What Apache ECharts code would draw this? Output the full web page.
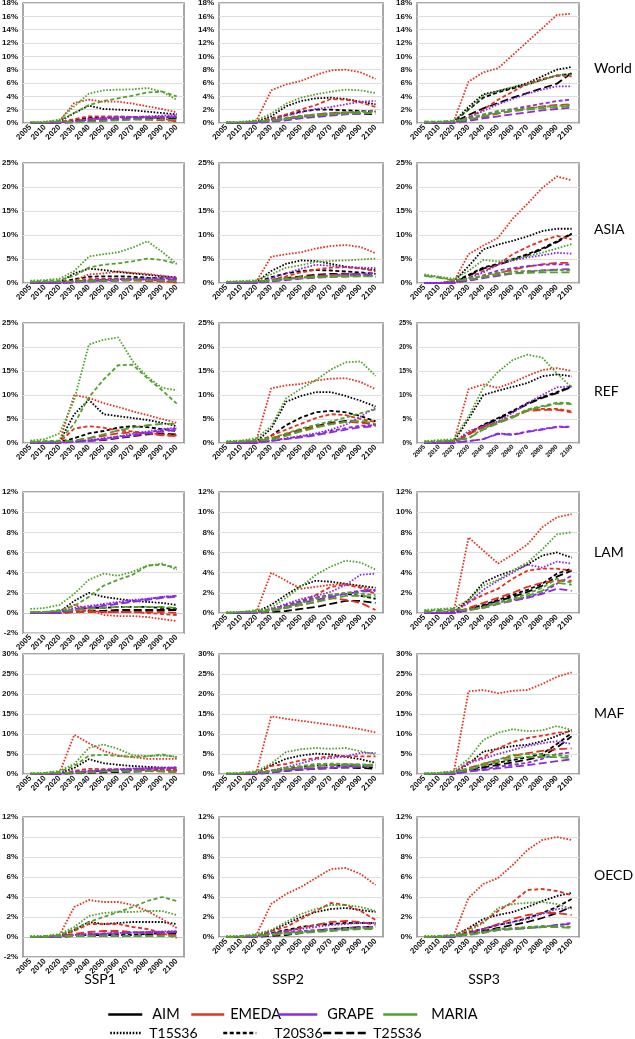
<!DOCTYPE html>
<html><head><meta charset="utf-8">
<script src="https://cdn.jsdelivr.net/npm/echarts/dist/echarts.min.js"></script>
<style>html,body{margin:0;padding:0;background:#fff}#c{width:635px;height:1039px}</style>
</head><body><div id="c"></div>
<script>
// ---------- categories / labels ----------
const years = ['2005','2010','2020','2030','2040','2050','2060','2070','2080','2090','2100'];
const regions = ['World','ASIA','REF','LAM','MAF','OECD'];
const ssps = ['SSP1','SSP2','SSP3'];
const models = ['AIM','EMEDA','GRAPE','MARIA'];
const scenarios = ['T15S36','T20S36','T25S36'];

// y-axis tick ranges (percent) per region row, and per column min
const yMax = [18, 25, 25, 12, 30, 12];
const yStep = [2, 5, 5, 2, 5, 2];
const yMin = [[0,0,0],[0,0,0],[0,0,0],[-2,0,0],[0,0,0],[-2,0,0]];

// ---------- data (percent); rows: AIM T15,T20,T25, EMEDA T15,T20,T25, GRAPE T15,T20,T25, MARIA T15,T20,T25 ----------
const World_SSP1 = [
 [0,0,0.2,1.5,2.6,2.1,2.0,1.9,1.7,1.5,1.3],
 [0,0,0.1,0.4,0.8,0.8,0.9,0.9,0.9,0.9,0.8],
 [0,0,0.1,0.2,0.3,0.4,0.5,0.6,0.7,0.7,0.6],
 [0,0,0.3,3.0,3.5,3.2,3.2,2.9,2.5,2.1,1.6],
 [0,0,0.1,0.6,1.0,1.0,1.0,0.9,0.8,0.7,0.2],
 [0,0,0.1,0.3,0.6,0.7,0.7,0.6,0.5,0.4,0.3],
 [0,0,0.1,0.3,0.6,0.8,0.9,0.9,1.0,1.1,1.2],
 [0,0,0.1,0.2,0.5,0.7,0.8,0.85,0.9,0.95,1.0],
 [0,0,0,0.1,0.3,0.5,0.6,0.7,0.8,0.85,0.9],
 [0.1,0.2,0.5,2.5,4.4,4.9,5.0,5.05,5.25,4.7,3.5],
 [0.1,0.1,0.4,1.5,2.7,3.3,3.7,4.1,4.6,4.7,4.0],
 [0.1,0.1,0.2,0.1,0.2,0.3,0.4,0.5,0.5,0.5,0.5]
];
const World_SSP2 = [
 [0,0,0.2,1.0,2.5,3.3,3.7,3.8,3.6,3.2,2.8],
 [0,0,0.1,0.6,1.2,1.7,2.0,2.0,1.9,1.8,1.7],
 [0,0,0.1,0.3,0.5,0.8,1.0,1.2,1.4,1.4,1.3],
 [0,0,0.3,4.9,5.8,6.3,7.2,7.9,8.0,7.6,6.6],
 [0,0,0.1,0.7,1.3,2.0,2.7,3.6,3.5,3.1,2.4],
 [0,0,0.1,0.3,0.7,1.0,1.3,1.5,1.6,1.6,1.4],
 [0,0,0.1,0.5,1.1,1.6,2.1,2.4,2.8,3.2,3.3],
 [0,0,0.1,0.3,0.6,0.9,1.1,1.3,1.5,1.7,1.9],
 [0,0,0,0.2,0.4,0.7,0.9,1.1,1.3,1.4,1.5],
 [0.1,0.2,0.4,1.4,2.9,3.8,4.3,4.7,5.0,4.9,4.5],
 [0.1,0.1,0.3,0.4,0.8,1.1,1.3,1.5,1.6,1.7,1.7],
 [0.1,0.1,0.2,0.3,0.6,0.9,1.1,1.3,1.4,1.5,1.5]
];
const World_SSP3 = [
 [0,0,0.2,2.4,4.3,4.8,5.3,6.0,7.0,8.0,8.4],
 [0,0,0.2,2.0,3.8,4.6,5.2,5.8,6.5,7.1,7.4],
 [0,0,0.1,1.2,2.2,3.0,3.8,4.5,5.2,5.9,7.5],
 [0,0,0.3,6.2,7.6,8.2,10.2,12.2,14.2,16.2,16.4],
 [0,0,0.1,0.8,2.0,3.5,4.7,5.9,6.6,7.1,7.0],
 [0,0,0.1,0.4,0.9,1.4,1.8,2.2,2.5,2.7,2.8],
 [0,0,0.1,0.8,1.8,2.8,3.6,4.4,5.0,5.5,5.5],
 [0,0,0.1,0.6,1.1,1.7,2.1,2.5,2.9,3.3,3.5],
 [0,0,0,0.3,0.7,1.0,1.3,1.6,1.9,2.1,2.3],
 [0.2,0.2,0.4,2.0,4.1,4.8,5.4,5.8,6.4,7.2,7.3],
 [0.2,0.2,0.3,0.7,1.3,1.8,2.0,2.2,2.4,2.6,2.7],
 [0.1,0.1,0.2,0.5,1.0,1.5,1.8,2.0,2.2,2.4,2.5]
];
const ASIA_SSP1 = [
 [0,0,0.2,2.0,3.0,2.7,2.3,2.0,1.7,1.4,1.2],
 [0,0,0.1,0.8,1.3,1.4,1.4,1.3,1.1,1.0,0.9],
 [0,0,0.1,0.3,0.5,0.6,0.7,0.7,0.7,0.6,0.5],
 [0,0,0.2,0.5,1.8,2.0,2.4,2.1,1.9,1.5,1.0],
 [0,0,0.1,0.3,0.8,0.9,0.9,0.8,0.7,0.4,0.1],
 [0,0,0.1,0.2,0.4,0.5,0.5,0.5,0.4,0.3,0.2],
 [0,0,0.1,0.3,0.5,0.7,0.8,0.9,1.0,1.1,1.2],
 [0,0,0,0.2,0.4,0.5,0.6,0.7,0.8,0.9,0.9],
 [0,0,0,0.1,0.3,0.4,0.5,0.6,0.6,0.7,0.7],
 [0.5,0.6,0.9,2.5,5.5,6.0,6.4,7.4,8.7,6.5,4.0],
 [0.3,0.4,0.6,1.5,3.2,3.8,4.1,4.5,5.1,4.8,4.0],
 [0.2,0.3,0.3,0.3,0.4,0.5,0.6,0.6,0.6,0.5,0.4]
];
const ASIA_SSP2 = [
 [0,0,0.2,2.5,4.0,4.7,4.6,4.0,3.4,3.1,2.7],
 [0,0,0.1,1.2,2.0,2.5,2.7,2.6,2.4,2.2,1.9],
 [0,0,0.1,0.6,1.0,1.4,1.7,1.9,1.9,1.8,1.3],
 [0,0,0.3,5.5,6.0,6.4,7.2,7.7,7.9,7.5,6.2],
 [0,0,0.1,0.7,1.4,2.2,2.8,3.2,3.3,3.0,2.4],
 [0,0,0.1,0.4,0.8,1.2,1.5,1.7,1.8,1.7,1.5],
 [0,0,0.1,1.0,2.0,3.0,3.8,3.6,3.3,3.2,3.1],
 [0,0,0.1,0.4,0.8,1.1,1.3,1.6,1.8,1.9,2.1],
 [0,0,0,0.3,0.6,0.9,1.1,1.3,1.5,1.6,1.7],
 [0.3,0.4,0.6,1.8,3.2,3.7,4.4,4.6,4.7,4.9,5.1],
 [0.2,0.3,0.4,0.6,1.0,1.2,1.3,1.4,1.5,1.5,1.5],
 [0.2,0.2,0.3,0.5,0.8,1.0,1.2,1.3,1.3,1.4,1.4]
];
const ASIA_SSP3 = [
 [0,0,0.3,3.5,7.0,8.0,8.8,9.7,10.8,11.3,11.3],
 [0,0,0.2,1.7,3.2,4.0,5.0,6.0,7.2,8.7,10.3],
 [0,0,0.1,1.5,3.0,3.8,4.8,5.8,7.0,8.5,10.2],
 [0,0,0.3,6.0,7.8,9.4,13.4,16.5,19.8,22.2,21.4],
 [0,0,0.1,1.0,2.5,3.8,6.0,7.5,8.8,9.8,9.1],
 [0,0,0.1,0.5,1.2,2.0,2.8,3.4,3.9,4.2,4.2],
 [0,0,0.1,1.0,2.2,3.8,4.7,5.3,5.8,6.3,6.1],
 [0,0,0.1,0.7,1.6,2.6,3.1,3.5,3.8,3.9,3.8],
 [0,0,0,0.5,1.0,1.5,2.0,2.3,2.6,2.8,2.9],
 [1.8,1.3,0.9,2.5,4.8,4.5,4.9,5.6,6.3,7.2,8.1],
 [1.6,1.2,0.6,0.9,1.5,2.2,2.4,2.5,2.6,2.7,2.6],
 [1.5,1.1,0.5,0.7,1.2,1.8,2.0,2.1,2.2,2.2,2.2]
];
const REF_SSP1 = [
 [0,0,0.3,6.0,9.0,6.0,5.6,5.2,4.8,4.2,3.5],
 [0,0,0.2,1.0,2.0,2.5,3.2,3.5,3.3,2.9,2.5],
 [0,0,0.1,0.3,0.5,0.6,1.0,1.4,1.8,2.0,1.8],
 [0,0,0.3,10.0,9.4,8.3,7.5,6.6,5.8,5.0,4.2],
 [0,0,0.2,3.0,3.5,3.2,2.6,2.4,2.1,1.8,1.6],
 [0,0,0.1,0.5,1.0,1.5,2.0,2.2,2.0,1.6,1.4],
 [0,0,0.1,0.3,0.6,1.0,1.4,1.9,2.4,2.9,3.2],
 [0,0,0.1,0.3,0.5,0.9,1.3,1.7,2.2,2.7,3.0],
 [0,0,0,0.2,0.4,0.7,1.1,1.5,2.0,2.4,2.7],
 [0.5,0.8,2.0,9.0,20.5,21.5,22.0,17.0,13.8,11.5,11.0],
 [0.3,0.4,0.5,4.0,9.5,13.2,16.2,16.3,13.5,11.0,8.2],
 [0.2,0.3,0.3,0.5,1.0,1.8,2.6,3.2,3.7,4.0,4.0]
];
const REF_SSP2 = [
 [0,0,0.3,3.0,8.6,9.8,10.6,10.6,9.8,8.8,7.6],
 [0,0,0.2,1.5,3.7,5.3,6.4,6.7,6.4,5.6,4.5],
 [0,0,0.1,0.8,1.8,2.8,3.5,4.2,4.6,4.4,3.8],
 [0,0,0.5,11.4,12.0,12.3,13.0,13.4,13.5,12.7,11.2],
 [0,0,0.2,1.5,2.8,4.0,5.2,6.0,5.8,5.0,4.4],
 [0,0,0.1,1.0,1.8,2.6,3.4,4.0,4.4,4.2,3.9],
 [0,0,0.1,0.5,1.0,1.5,2.0,2.8,3.8,5.5,7.4],
 [0,0,0.1,0.5,0.9,1.4,1.8,2.5,3.1,3.6,3.7],
 [0,0,0,0.4,0.8,1.2,1.6,2.2,2.8,3.3,3.5],
 [0.4,0.5,1.0,3.5,9.3,11.3,13.1,15.3,16.8,17.0,14.0],
 [0.3,0.4,0.7,1.0,2.0,3.0,3.8,4.5,5.3,6.2,7.0],
 [0.2,0.3,0.5,0.7,1.5,2.4,3.2,3.9,4.4,4.6,4.0]
];
const REF_SSP3 = [
 [0,0,0.3,5.0,10.0,10.9,11.7,12.5,13.9,14.3,13.9],
 [0,0,0.2,2.0,3.8,5.2,6.7,8.3,9.6,10.6,11.9],
 [0,0,0.1,1.8,3.6,5.0,6.5,8.1,9.4,10.4,11.7],
 [0,0,0.3,11.2,12.2,11.5,12.6,14.0,15.2,15.6,15.0],
 [0,0,0.2,2.0,3.5,4.4,5.6,6.9,7.1,7.1,6.6],
 [0,0,0.1,1.8,3.3,4.2,5.4,6.7,6.9,6.9,6.4],
 [0,0,0.1,2.5,3.5,4.5,6.3,8.3,10.0,11.6,11.8],
 [0,0,0.1,0.4,0.8,2.0,1.8,2.4,2.9,3.4,3.4],
 [0,0,0,0.4,0.8,1.9,1.7,2.3,2.8,3.3,3.3],
 [0.4,0.6,0.8,5.5,11.5,14.8,17.3,18.4,17.8,14.5,11.6],
 [0.3,0.4,0.6,1.0,3.0,4.3,5.5,7.0,7.7,8.4,8.3],
 [0.2,0.3,0.5,0.9,2.8,4.1,5.3,6.8,7.5,8.2,8.1]
];
const LAM_SSP1 = [
 [0,0,0.1,1.2,2.0,1.6,1.4,1.2,1.1,1.0,0.8],
 [0,0,0.1,0.3,0.5,0.5,0.6,0.6,0.6,0.5,0.4],
 [0,0,0,0.1,0.2,0.2,0.3,0.3,0.3,0.3,0.3],
 [0,0,0.1,0.8,0.4,-0.2,-0.3,-0.3,-0.4,-0.6,-0.8],
 [0,0,0,0.3,0.2,0.1,0.1,0.1,0.0,-0.1,-0.2],
 [0,0,0,0.1,0.1,0.1,0.1,0.1,0.1,0.1,0.0],
 [0,0,0.1,0.5,0.7,0.9,1.1,1.3,1.4,1.6,1.7],
 [0,0,0.1,0.4,0.6,0.8,1.0,1.2,1.4,1.6,1.7],
 [0,0,0,0.3,0.5,0.7,0.9,1.1,1.3,1.5,1.6],
 [0.4,0.5,0.8,1.9,3.3,3.9,3.7,4.1,4.7,4.9,4.3],
 [0.1,0.1,0.3,0.7,1.6,2.7,3.3,3.8,4.7,4.8,4.5],
 [0.1,0.1,0.2,0.3,0.4,0.5,0.6,0.6,0.6,0.6,0.5]
];
const LAM_SSP2 = [
 [0,0,0.1,0.8,1.8,2.7,3.2,3.1,2.9,2.7,2.5],
 [0,0,0.1,0.3,0.7,1.1,1.5,1.8,1.9,1.7,1.4],
 [0,0,0,0.1,0.2,0.4,0.6,0.9,1.2,1.2,1.0],
 [0,0,0.1,4.0,3.2,2.4,2.6,2.8,2.9,2.6,2.2],
 [0,0,0.1,0.4,0.7,1.2,1.8,2.6,2.8,2.5,1.9],
 [0,0,0,0.2,0.5,0.8,1.1,1.5,1.3,1.0,0.3],
 [0,0,0.1,0.4,0.9,1.4,1.7,2.1,2.8,3.8,3.9],
 [0,0,0,0.3,0.8,1.2,1.5,1.7,2.0,2.2,2.3],
 [0,0,0,0.2,0.6,1.0,1.3,1.6,1.9,2.1,2.2],
 [0.1,0.1,0.3,0.5,1.5,2.6,3.8,4.6,5.2,5.0,4.3],
 [0,0.1,0.2,0.3,0.6,1.0,1.4,1.8,2.0,1.9,1.8],
 [0,0.1,0.1,0.2,0.5,0.8,1.1,1.4,1.7,1.7,1.6]
];
const LAM_SSP3 = [
 [0,0,0.1,1.3,3.0,3.7,4.2,4.8,5.7,6.0,5.5],
 [0,0,0.1,0.4,0.8,1.3,1.8,2.3,2.9,3.9,4.4],
 [0,0,0,0.3,0.7,1.2,1.6,2.1,2.7,3.6,4.2],
 [0,0,0.2,7.5,6.2,4.9,5.8,6.8,8.5,9.5,9.8],
 [0,0,0.1,1.1,1.8,2.4,3.4,4.2,4.4,4.4,4.2],
 [0,0,0,0.5,1.0,1.5,2.0,2.6,3.0,3.2,3.2],
 [0,0,0.1,1.0,2.3,3.2,4.0,4.8,4.5,5.1,4.9],
 [0,0,0,0.3,0.6,1.1,1.3,1.6,2.0,2.9,3.7],
 [0,0,0,0.3,0.5,0.9,1.2,1.5,1.9,2.4,2.2],
 [0.3,0.4,0.5,1.3,2.7,3.3,4.2,5.0,6.3,7.8,8.0],
 [0.2,0.3,0.4,0.3,0.6,1.0,1.4,1.9,2.5,3.4,3.0],
 [0.1,0.2,0.3,0.3,0.5,0.9,1.3,1.7,2.2,3.0,2.8]
];
const MAF_SSP1 = [
 [0,0,0.2,1.5,3.7,2.7,2.3,2.0,1.8,1.6,1.4],
 [0,0,0.1,0.3,0.6,0.8,0.9,1.0,1.1,1.1,1.0],
 [0,0,0,0.2,0.3,0.4,0.5,0.6,0.7,0.7,0.6],
 [0,0,0.3,9.8,7.7,5.8,4.6,4.2,3.8,3.8,3.8],
 [0,0,0.1,0.8,1.3,1.2,1.2,1.1,1.0,1.0,1.0],
 [0,0,0.1,0.4,0.6,0.7,0.7,0.7,0.7,0.6,0.6],
 [0,0,0.1,0.6,0.8,1.0,1.2,1.4,1.5,1.6,1.7],
 [0,0,0.1,0.5,0.7,0.9,1.1,1.3,1.4,1.5,1.6],
 [0,0,0,0.4,0.6,0.8,1.0,1.2,1.3,1.4,1.5],
 [0.2,0.3,0.8,2.5,6.5,7.4,6.3,4.7,4.5,4.6,4.3],
 [0.1,0.2,0.6,2.0,4.6,4.8,4.5,4.3,4.4,4.9,4.2],
 [0.1,0.1,0.3,0.3,0.4,0.6,0.7,0.8,0.8,0.7,0.5]
];
const MAF_SSP2 = [
 [0,0,0.2,2.2,3.8,4.6,5.1,4.9,4.3,3.7,2.8],
 [0,0,0.1,0.8,1.4,1.8,2.1,2.2,2.0,1.8,1.6],
 [0,0,0.1,0.4,0.8,1.1,1.3,1.5,1.6,1.5,1.3],
 [0,0,0.3,14.4,13.8,13.3,12.8,12.3,11.8,11.2,10.4],
 [0,0,0.2,2.0,2.5,3.4,4.0,4.4,4.5,4.4,4.4],
 [0,0,0.1,0.8,1.2,1.6,2.0,2.3,2.4,2.3,2.2],
 [0,0,0.1,0.9,1.7,2.7,3.7,4.0,4.4,5.3,5.3],
 [0,0,0.1,0.5,1.0,1.3,1.5,1.7,1.9,2.0,2.2],
 [0,0,0,0.4,0.8,1.1,1.3,1.5,1.7,1.8,2.0],
 [0.2,0.3,0.7,2.6,5.5,6.2,6.5,6.3,6.5,5.7,4.9],
 [0.1,0.2,0.5,0.8,1.6,2.0,2.5,2.6,2.5,2.4,2.3],
 [0.1,0.1,0.3,0.6,1.2,1.6,2.0,2.2,2.2,2.1,2.0]
];
const MAF_SSP3 = [
 [0,0,0.3,2.5,5.6,6.3,7.0,7.3,8.2,9.5,11.0],
 [0,0,0.1,1.0,2.0,2.8,3.5,4.2,5.0,7.5,10.2],
 [0,0,0.1,0.8,1.6,2.3,2.9,3.6,4.4,6.6,9.4],
 [0,0,0.5,20.7,21.0,20.2,20.8,21.0,22.5,24.3,25.4],
 [0,0,0.2,3.0,4.2,6.4,8.0,9.0,9.6,10.3,10.6],
 [0,0,0.1,1.5,2.5,3.5,4.5,5.2,5.8,6.2,6.4],
 [0,0,0.2,2.8,3.8,5.0,6.0,7.0,7.7,8.2,7.5],
 [0,0,0.1,0.8,1.2,1.8,2.3,2.8,3.8,5.0,5.4],
 [0,0,0,0.6,1.0,1.4,1.8,2.2,2.7,3.2,3.7],
 [0.2,0.3,0.8,3.8,8.5,10.3,11.2,10.7,10.9,12.0,11.0],
 [0.1,0.2,0.6,1.3,2.6,3.6,4.8,5.0,4.9,4.7,4.4],
 [0.1,0.1,0.4,1.0,2.1,3.0,4.0,4.3,4.3,4.2,4.0]
];
const OECD_SSP1 = [
 [0,0,0.1,0.7,1.5,1.3,1.4,1.5,1.5,1.5,1.3],
 [0,0,0.1,0.2,0.2,0.2,0.2,0.2,0.3,0.4,0.5],
 [0,0,0,0.1,0.1,0.1,0.1,0.1,0.2,0.3,0.3],
 [0,0,0.2,3.0,3.7,3.5,3.5,3.2,2.6,1.8,0.9],
 [0,0,0.1,0.6,1.3,1.3,1.3,1.0,0.8,0.4,-0.1],
 [0,0,0.1,0.3,0.5,0.6,0.6,0.5,0.4,0.3,0.2],
 [0,0,0.1,0.2,0.3,0.35,0.4,0.45,0.5,0.55,0.6],
 [0,0,0.1,0.2,0.3,0.35,0.4,0.45,0.5,0.5,0.55],
 [0,0,0,0.15,0.25,0.3,0.35,0.4,0.45,0.45,0.5],
 [0.1,0.1,0.3,1.0,2.1,2.4,2.5,2.5,2.6,2.6,2.2],
 [0,0.1,0.2,0.8,1.5,2.0,2.5,3.0,3.6,4.0,3.6],
 [0,0,0.1,0.1,0.1,0.1,0.1,0.1,0.1,0.1,0.1]
];
const OECD_SSP2 = [
 [0,0,0.1,0.6,1.3,2.0,2.5,2.8,2.9,2.7,2.5],
 [0,0,0.1,0.4,0.7,1.0,1.2,1.3,1.4,1.4,1.4],
 [0,0,0,0.1,0.2,0.4,0.6,0.8,0.9,1.0,1.0],
 [0,0,0.2,3.3,4.3,5.0,5.9,6.8,6.9,6.3,5.2],
 [0,0,0.1,0.6,1.0,1.8,2.6,3.4,3.2,2.6,1.7],
 [0,0,0.1,0.3,0.6,0.9,1.2,1.5,1.6,1.5,1.2],
 [0,0,0.1,0.4,0.6,0.8,1.0,1.2,1.3,1.4,1.4],
 [0,0,0.1,0.3,0.5,0.6,0.7,0.8,0.9,1.0,1.0],
 [0,0,0,0.2,0.4,0.5,0.6,0.7,0.8,0.9,0.9],
 [0.1,0.1,0.3,0.7,1.5,2.3,2.8,3.2,3.2,3.0,2.6],
 [0,0.1,0.2,0.3,0.4,0.5,0.6,0.7,0.8,0.9,0.9],
 [0,0,0.1,0.2,0.3,0.4,0.5,0.6,0.7,0.8,0.8]
];
const OECD_SSP3 = [
 [0,0,0.1,0.9,1.8,2.2,2.5,3.0,3.6,4.1,4.4],
 [0,0,0.1,0.5,0.8,1.2,1.5,1.9,2.4,3.0,3.8],
 [0,0,0,0.3,0.6,0.9,1.2,1.5,1.9,2.4,3.0],
 [0,0,0.2,3.9,5.3,5.9,7.2,8.7,9.7,10.0,9.7],
 [0,0,0.1,0.8,1.5,2.6,3.5,4.7,4.8,4.6,4.2],
 [0,0,0.1,0.4,0.8,1.3,1.8,2.2,2.4,2.4,2.2],
 [0,0,0.1,0.4,0.8,1.2,1.5,1.8,2.3,2.8,2.9],
 [0,0,0.1,0.3,0.5,0.8,0.8,0.9,1.0,1.2,1.4],
 [0,0,0,0.3,0.5,0.7,0.8,0.9,1.0,1.2,1.3],
 [0.1,0.1,0.2,0.6,1.4,2.9,3.3,3.4,3.5,3.3,2.8],
 [0,0.1,0.2,0.3,0.5,0.8,0.9,1.0,1.1,1.1,1.0],
 [0,0,0.1,0.2,0.4,0.7,0.8,0.9,1.0,1.0,0.9]
];

const panels = [
 [World_SSP1, World_SSP2, World_SSP3],
 [ASIA_SSP1, ASIA_SSP2, ASIA_SSP3],
 [REF_SSP1, REF_SSP2, REF_SSP3],
 [LAM_SSP1, LAM_SSP2, LAM_SSP3],
 [MAF_SSP1, MAF_SSP2, MAF_SSP3],
 [OECD_SSP1, OECD_SSP2, OECD_SSP3]
];

// ---------- styling / layout ----------
const modelColors = ['#000000', '#E3301F', '#8A2BE2', '#53A02D'];
const scenDash = [[1.6, 1.6], [4, 2.5], [8, 3.5]];
const colLeft = [23, 219, 417];
const colWidth = [161, 164, 162];
const rowTop = [3, 163, 323, 492, 654, 817];
const rowH0 = [120, 120, 120, 121, 120, 120]; // pixel height from top down to 0%
const rowLabelY = [68, 229, 391, 552, 713, 875];
const sspLabelX = [100, 288, 484];
// legend item placement: [left, itemWidth, text gap]
const legendModelPos = [[107, 34, 5], [190, 33, 1], [277, 39, 5], [382, 34, 9]];
const legendScenPos = [[109, 31, 3], [222, 33, 13], [322, 43, 2]];
const FONT = 'Liberation Sans';
const TFONT = 'Lato';

const grid = [], xAxis = [], yAxis = [], series = [];
for (let r = 0; r < 6; r++) {
  for (let c = 0; c < 3; c++) {
    const i = r * 3 + c;
    const mn = yMin[r][c], mx = yMax[r];
    const h = rowH0[r] * (mx - mn) / mx;
    const small = (r === 2 && c === 2);
    const fs = small ? 6.5 : 8;
    grid.push({left: colLeft[c], top: rowTop[r], width: colWidth[c], height: h,
      show: true, borderColor: '#8c8c8c', borderWidth: 1.5, backgroundColor: 'transparent',
      containLabel: false, outerBoundsMode: 'none'});
    xAxis.push({type: 'category', gridIndex: i, data: years, boundaryGap: true,
      axisLine: {show: mn < 0, onZero: true, lineStyle: {color: '#c8c8c8', width: 1}},
      axisTick: {show: false},
      axisLabel: {interval: 0, rotate: 45, fontSize: fs, fontWeight: 'bold', color: '#111', margin: 3, fontFamily: FONT},
      splitLine: {show: false}});
    yAxis.push({type: 'value', gridIndex: i, min: mn, max: mx, interval: yStep[r],
      axisLabel: {formatter: '{value}%', fontSize: fs, fontWeight: 'bold', color: '#111', margin: 5, fontFamily: FONT},
      axisLine: {show: false}, axisTick: {show: false},
      splitLine: {show: true, lineStyle: {color: '#dedede', width: 1}}});
    const pd = panels[r][c];
    for (let m = 0; m < 4; m++) {
      for (let s = 0; s < 3; s++) {
        series.push({type: 'line', name: models[m] + ' ' + scenarios[s] + ' ' + regions[r] + ' ' + ssps[c],
          xAxisIndex: i, yAxisIndex: i, data: pd[m * 3 + s], symbol: 'none', silent: true,
          lineStyle: {color: modelColors[m], width: 1.8, type: scenDash[s]}});
      }
    }
  }
}
// legend-only series
models.forEach((m, k) => series.push({type: 'line', name: m, data: [], symbol: 'none', xAxisIndex: 0, yAxisIndex: 0,
  itemStyle: {color: modelColors[k], opacity: 0}, lineStyle: {color: modelColors[k], width: 2.5, type: 'solid'}}));
scenarios.forEach((s, k) => series.push({type: 'line', name: s, data: [], symbol: 'none', xAxisIndex: 0, yAxisIndex: 0,
  itemStyle: {color: '#000', opacity: 0}, lineStyle: {color: '#000', width: 2.5, type: scenDash[k]}}));

const graphic = [];
regions.forEach((t, r) => graphic.push({type: 'text', x: 594, y: rowLabelY[r],
  style: {text: t, fontFamily: TFONT, fontSize: 14, fill: '#000', verticalAlign: 'middle', align: 'left'}}));
ssps.forEach((t, c) => graphic.push({type: 'text', x: sspLabelX[c], y: 979,
  style: {text: t, fontFamily: TFONT, fontSize: 14, fill: '#000', verticalAlign: 'middle', align: 'center'}}));

function mkLegend(name, pos, top, fs) {
  return {data: [name], left: pos[0], top: top, padding: 0, itemWidth: pos[1], itemHeight: 10,
    selectedMode: false, lineStyle: {width: 2.5}, itemStyle: {opacity: 0},
    textStyle: {fontFamily: TFONT, fontSize: fs, color: '#000', padding: [0, 0, 0, pos[2]]}};
}
const legend = [];
models.forEach((m, k) => legend.push(mkLegend(m, legendModelPos[k], 1007, 14.5)));
scenarios.forEach((s, k) => legend.push(mkLegend(s, legendScenPos[k], 1026, 14)));

const chart = echarts.init(document.getElementById('c'), null, {renderer: 'canvas'});
chart.setOption({
  animation: false,
  backgroundColor: '#ffffff',
  textStyle: {fontFamily: FONT},
  grid, xAxis, yAxis, series, graphic, legend,
  tooltip: {show: false}
});
</script>
</body></html>
